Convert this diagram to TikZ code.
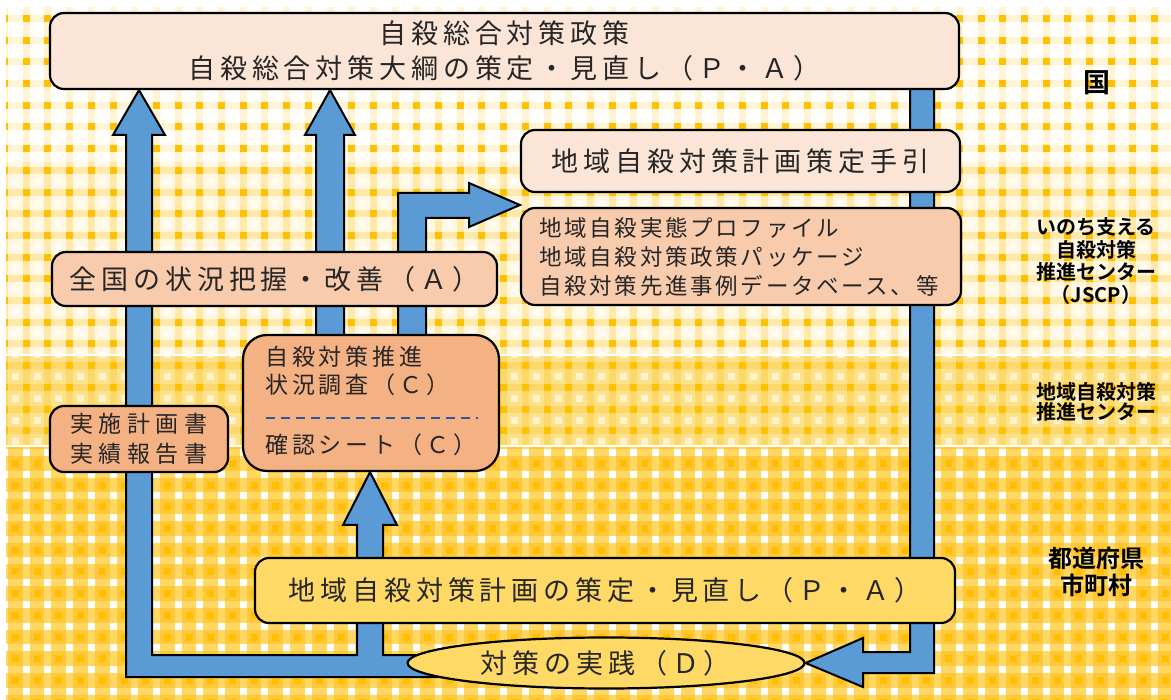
\documentclass[tikz,border=0pt]{standalone}
\usepackage{fontspec}
\usetikzlibrary{shapes.geometric,calc}
\newfontfamily\jpL{Noto Sans CJK JP}[LetterSpace=18]
\newfontfamily\jpM{Noto Sans CJK JP}[LetterSpace=17]
\newfontfamily\jpP{Noto Sans CJK JP}[LetterSpace=12]
\newfontfamily\jpR{Noto Sans CJK JP}[LetterSpace=24]
\newfontfamily\jpB{Noto Sans CJK JP Bold}
\definecolor{peachA}{HTML}{FBE5D6}
\definecolor{peachB}{HTML}{F8CBAD}
\definecolor{peachC}{HTML}{F4B183}
\definecolor{ybox}{HTML}{FFD966}
\definecolor{arrowc}{HTML}{5B9BD5}
\definecolor{dashc}{HTML}{2F5597}
\definecolor{textc}{HTML}{262626}
\definecolor{orng}{HTML}{FFC000}
\definecolor{bAbase}{HTML}{FFFEF8}
\definecolor{bAstr}{HTML}{FFF4D6}
\definecolor{bBbase}{HTML}{FFF7E0}
\definecolor{bBstr}{HTML}{FEE8AA}
\definecolor{bBsq}{HTML}{FFFDF3}
\definecolor{bCbase}{HTML}{FDE28C}
\definecolor{bCstr}{HTML}{FCD769}
\definecolor{bCsq}{HTML}{FFF2CC}
\definecolor{bDbase}{HTML}{FFC83A}
\definecolor{bDstr}{HTML}{FFD863}
\definecolor{bDsq}{HTML}{FFBF00}
\pgfdeclarelayer{bg}
\pgfdeclarelayer{arrows}
\pgfsetlayers{bg,arrows,main}
\newcommand\myband[8]{%
 \begin{scope}
 \clip (6,#1) rectangle (1171,#2);
 \fill[fill=#5] (6,#1) rectangle (1171,#2);
 \foreach \i in {0,...,54} {\fill[fill=#6] ({1+21.7*\i},#1) rectangle ({8+21.7*\i},#2);}
 \foreach \j in {#3,...,#4} {\fill[fill=#6] (6,{15+21.7*\j}) rectangle (1171,{22+21.7*\j});}
 \foreach \j in {#3,...,#4} {\foreach \i in {0,...,54} {%
   \fill[fill=#7] ({1+21.7*\i},{15+21.7*\j}) rectangle ++(7,7);
   \fill[fill=#8] ({12+21.7*\i},{26+21.7*\j}) rectangle ++(7,7);}}
 \end{scope}}
\tikzset{
  box/.style={draw=black, line width=2.2pt, rounded corners=14pt, inner sep=0pt, align=center, text=textc},
  bigtxt/.style={font=\jpL\fontsize{27}{35}\selectfont},
  midtxt/.style={font=\jpM\fontsize{23}{29}\selectfont},
  sidelbl/.style={font=\jpB\fontsize{20}{22.6}\selectfont, align=center, text=black, inner sep=0pt},
  blockarrow/.style={fill=arrowc, draw=black, line width=2pt, line join=miter},
  txt/.style={inner sep=0pt, text=textc, anchor=west, align=left}
}
\begin{document}
\begin{tikzpicture}[x=1pt,y=-1pt]
\useasboundingbox (0,0) rectangle (1171,700);
\begin{pgfonlayer}{bg}
\fill[white] (0,0) rectangle (1171,700);
\myband{7}{162}{-1}{7}{bAbase}{bAstr}{orng}{white}
\myband{162}{354}{6}{16}{bBbase}{bBstr}{orng}{bBsq}
\myband{356.5}{445}{15}{20}{bCbase}{bCstr}{orng}{bCsq}
\myband{447.5}{700}{19}{32}{bDbase}{bDstr}{white}{bDsq}
\end{pgfonlayer}
% nodes
\node[box, bigtxt, fill=peachA, minimum width=909pt, minimum height=76pt] (top) at (504.5,51) {自殺総合対策政策\\自殺総合対策大綱の策定・見直し（Ｐ・Ａ）};
\node[box, bigtxt, fill=peachA, minimum width=439pt, minimum height=62pt] (guide) at (740.5,161) {地域自殺対策計画策定手引};
\node[box, fill=peachB, minimum width=440pt, minimum height=97pt] (prof) at (741,256.5) {};
\node[txt, font=\jpP\fontsize{22.5}{29}\selectfont] (proftxt) at (539,257) {地域自殺実態プロファイル\\地域自殺対策政策パッケージ\\自殺対策先進事例データベース、等};
\node[box, bigtxt, fill=peachB, minimum width=445pt, minimum height=54pt] (nat) at (274.5,279) {全国の状況把握・改善（Ａ）};
\node[box, fill=peachC, rounded corners=24pt, minimum width=256pt, minimum height=136pt] (chk) at (371,403) {};
\node[txt, font=\jpM\fontsize{23}{28}\selectfont] (chktxt1) at (265,371) {自殺対策推進\\状況調査（Ｃ）};
\node[txt, midtxt] (chktxt2) at (265,445) {確認シート（Ｃ）};
\coordinate (dA) at (266,418);
\coordinate (dB) at (478,418);
\draw[dashc, line width=1.6pt, dash pattern=on 9pt off 6pt] (dA) -- (dB);
\node[box, font=\jpR\fontsize{23}{30}\selectfont, fill=peachC, minimum width=178pt, minimum height=66pt] (rep) at (139,439) {実施計画書\\実績報告書};
\node[box, bigtxt, fill=ybox, minimum width=700pt, minimum height=65pt] (plan) at (605,590.5) {地域自殺対策計画の策定・見直し（Ｐ・Ａ）};
\node[ellipse, draw=black, line width=2.2pt, fill=ybox, bigtxt, text=textc, inner sep=0pt, minimum width=397pt, minimum height=51pt] (ell) at (606,663) {対策の実践（Ｄ）};
% side labels
\node[sidelbl, font=\jpB\fontsize{27}{30}\selectfont] (kuni) at (1097,83) {国};
\node[sidelbl] (jscp) at (1096,261) {いのち支える\\自殺対策\\推進センター\\（JSCP）};
\node[sidelbl, font=\jpB\fontsize{20}{20}\selectfont] (reg) at (1096,402) {地域自殺対策\\推進センター};
\node[sidelbl, font=\jpB\fontsize{24}{27}\selectfont] (pref) at (1096,572) {都道府県\\市町村};
% arrows
\begin{pgfonlayer}{arrows}
\draw[blockarrow] (470,655) -- (383,655) -- (383,525) -- (397,525) -- (370,0 |- chk.south) -- (343,525) -- (357,525) -- (357,655) -- (152,655) -- (152,135) -- (165,135) -- (139,0 |- top.south) -- (113,135) -- (126,135) -- (126,677) -- (470,677) -- cycle;
\draw[blockarrow] (316,340) -- (316,135) -- (305,135) -- (330,0 |- top.south) -- (355,135) -- (344,135) -- (344,340) -- cycle;
\draw[blockarrow] (398,340) -- (398,193) -- (469,193) -- (469,183) -- (prof.west |- 0,205) -- (469,227) -- (469,218) -- (426,218) -- (426,340) -- cycle;
\draw[blockarrow] (910,85) -- (910,652) -- (863,652) -- (863,638) -- (ell.east) -- (863,687) -- (863,673) -- (934,673) -- (934,85) -- cycle;
\end{pgfonlayer}
\end{tikzpicture}
\end{document}
